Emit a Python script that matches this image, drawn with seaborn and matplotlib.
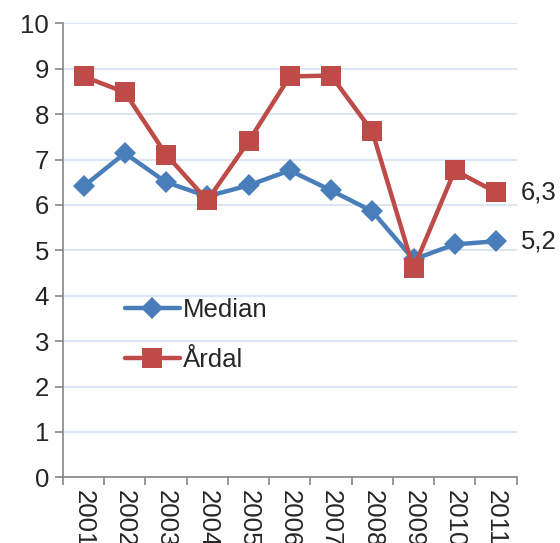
import matplotlib
matplotlib.use("Agg")
import matplotlib.pyplot as plt
import seaborn as sns
import pandas as pd
import numpy as np

years = ["2001", "2002", "2003", "2004", "2005", "2006", "2007", "2008", "2009", "2010", "2011"]
median = [6.41, 7.14, 6.50, 6.19, 6.43, 6.76, 6.32, 5.86, 4.80, 5.13, 5.20]
ardal = [8.83, 8.48, 7.11, 6.10, 7.40, 8.83, 8.85, 7.62, 4.60, 6.76, 6.28]
end_labels = ["5,2", "6,3"]

sns.set_theme(style="white")
plt.rcParams['font.family'] = ['Liberation Sans', 'DejaVu Sans']

FS = 18.5
fig = plt.figure(figsize=(5.6, 5.43), dpi=100)
ax = fig.add_axes([0.1125, 0.121, 0.81, 0.836])

x = np.arange(len(years))
df = pd.DataFrame({"x": np.concatenate([x, x]),
                   "v": median + ardal,
                   "s": ["Median"] * len(x) + ["Årdal"] * len(x)})
blue = "#4a7ebb"
red = "#be4b48"
sns.lineplot(data=df[df.s == "Median"], x="x", y="v", ax=ax, color=blue, lw=3.2,
             marker="D", markersize=11, markeredgewidth=0, label="Median", zorder=3)
sns.lineplot(data=df[df.s == "Årdal"], x="x", y="v", ax=ax, color=red, lw=3.2,
             marker="s", markersize=14, markeredgewidth=0, label="Årdal", zorder=4)

ax.set_xlim(-0.5, len(years) - 0.5)
ax.set_ylim(0, 10)
ax.set_yticks(range(0, 11))
ax.set_yticklabels([str(i) for i in range(11)], fontsize=FS)
ax.set_xticks(x)
ax.set_xticklabels(years, rotation=-90, fontsize=FS, va="top")
ax.set_xticks(np.arange(-0.5, len(years), 1), minor=True)
ax.tick_params(axis="x", which="major", length=0, pad=9)
ax.tick_params(axis="x", which="minor", length=6, color="#868686", width=1.2, direction="out", bottom=True)
ax.tick_params(axis="y", length=6, color="#868686", width=1.2, direction="out", left=True, pad=4)
ax.set_xlabel("")
ax.set_ylabel("")
ax.grid(axis="y", color="#dce6f2", lw=1.5)
ax.set_axisbelow(True)
for s in ["top", "right"]:
    ax.spines[s].set_visible(False)
for s in ["left", "bottom"]:
    ax.spines[s].set_color("#868686")
    ax.spines[s].set_linewidth(1.2)

ax.annotate(end_labels[0], (x[-1], median[-1]), xytext=(18, 0), textcoords="offset points",
            va="center", ha="left", fontsize=FS, annotation_clip=False)
ax.annotate(end_labels[1], (x[-1], ardal[-1]), xytext=(18, 0), textcoords="offset points",
            va="center", ha="left", fontsize=FS, annotation_clip=False)

leg = ax.legend(loc="upper left", bbox_to_anchor=(0.085, 0.446), frameon=False, fontsize=FS,
                handlelength=2.15, labelspacing=1.0, handletextpad=0.1)

fig.savefig("out.png", dpi=100)
